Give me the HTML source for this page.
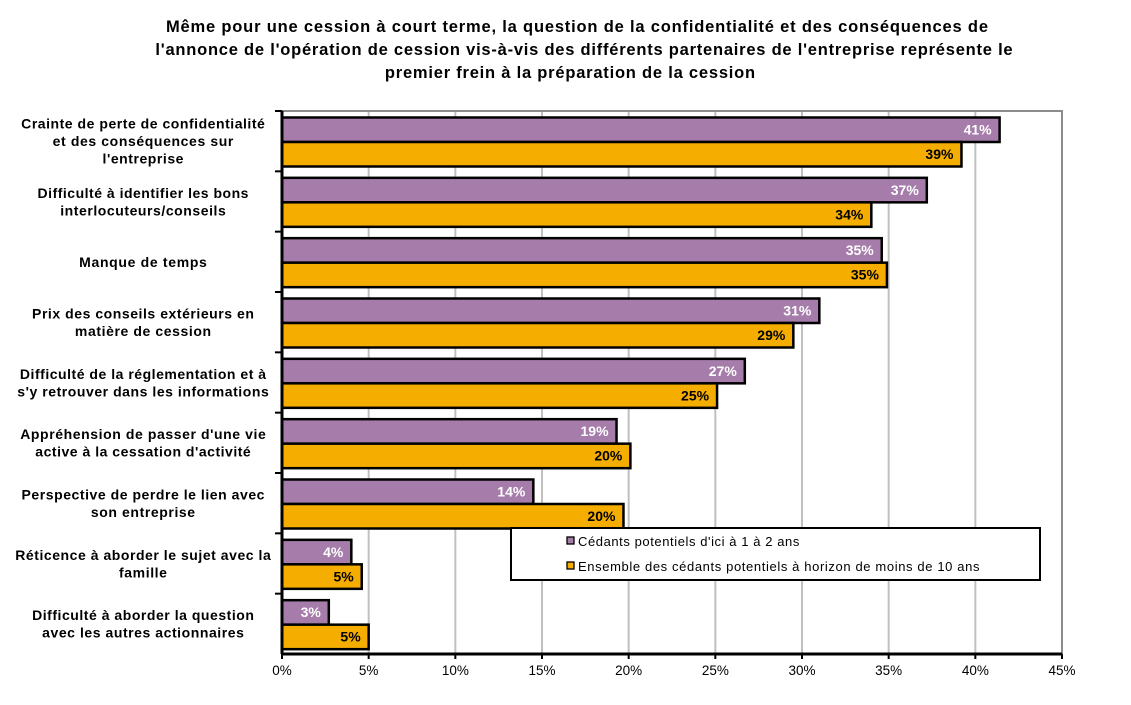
<!DOCTYPE html>
<html><head><meta charset="utf-8"><style>
body{margin:0;background:#fff;font-family:"Liberation Sans",Arial,sans-serif}
svg text{font-family:"Liberation Sans",Arial,sans-serif}
</style></head><body>
<svg id="chart" width="1131" height="700" xmlns="http://www.w3.org/2000/svg">
<g font-size="16.5" font-weight="bold" text-anchor="middle" fill="#000">
<text class="st" data-f="1.1" x="577" y="32">Même pour une cession à court terme, la question de la confidentialité et des conséquences de</text>
<text class="st" data-f="1.1" x="584" y="55">l'annonce de l'opération de cession vis-à-vis des différents partenaires de l'entreprise représente le</text>
<text class="st" data-f="1.1" x="570" y="78">premier frein à la préparation de la cession</text>
</g>
<g id="grid"></g>
<g id="bars"></g>
<g id="axes"></g>
<g>
<rect x="511" y="528" width="529" height="52" fill="#fff" stroke="#000" stroke-width="2"/>
<g>
<rect x="567" y="537" width="7" height="7" fill="#a57caa" stroke="#000" stroke-width="1.3"/>
<text class="st" data-f="1.1" x="578" y="546" font-size="13">Cédants potentiels d'ici à 1 à 2 ans</text></g>
<g>
<rect x="567" y="562" width="7" height="7" fill="#f5ae00" stroke="#000" stroke-width="1.3"/>
<text class="st" data-f="1.1" x="578" y="571" font-size="13">Ensemble des cédants potentiels à horizon de moins de 10 ans</text></g>
</g>
</svg>
<script>
const categories=[
["Crainte de perte de confidentialité","et des conséquences sur","l'entreprise"],
["Difficulté à identifier les bons","interlocuteurs/conseils"],
["Manque de temps"],
["Prix des conseils extérieurs en","matière de cession"],
["Difficulté de la réglementation et à","s'y retrouver dans les informations"],
["Appréhension de passer d'une vie","active à la cessation d'activité"],
["Perspective de perdre le lien avec","son entreprise"],
["Réticence à aborder le sujet avec la","famille"],
["Difficulté à aborder la question","avec les autres actionnaires"]];
const seriesShort=[41.4,37.2,34.6,31.0,26.7,19.3,14.5,4.0,2.7];
const seriesAll=[39.2,34.0,34.9,29.5,25.1,20.1,19.7,4.6,5.0];
const labelsShort=["41%","37%","35%","31%","27%","19%","14%","4%","3%"];
const labelsAll=["39%","34%","35%","29%","25%","20%","20%","5%","5%"];
const ticks=[0,5,10,15,20,25,30,35,40,45];
const NS="http://www.w3.org/2000/svg";
const X0=282,X1=1062,Y0=111,Y1=654,XMAX=45;
const xs=v=>X0+v/XMAX*(X1-X0);
const rowH=(Y1-Y0)/categories.length;
function el(t,a,p,txt){const e=document.createElementNS(NS,t);for(const k in a)e.setAttribute(k,a[k]);if(txt!==undefined)e.textContent=txt;p.appendChild(e);return e;}
const grid=document.getElementById('grid'),bars=document.getElementById('bars'),axes=document.getElementById('axes');
ticks.forEach((t,i)=>{
 if(i>0&&i<ticks.length-1){const g=el('line',{x1:xs(t),x2:xs(t),y1:Y0,y2:Y1,stroke:'#c0c0c0','stroke-width':2},grid);
 
 }
 const tl=el('text',{x:xs(t),y:Y1+21,'font-size':13.5,'text-anchor':'middle'},axes,t+'%');
 
 
 el('line',{x1:xs(t),x2:xs(t),y1:Y1,y2:Y1+5,stroke:'#000','stroke-width':2},axes);
});
el('rect',{x:X0,y:Y0,width:X1-X0,height:Y1-Y0,fill:'none',stroke:'#8c8c8c','stroke-width':2},grid);
categories.forEach((c,i)=>{
 const top=Y0+i*rowH, bh=24.5;
 const y1=top+6.5,y2=y1+bh;
 const b1=el('rect',{x:X0,y:y1,width:xs(seriesShort[i])-X0,height:bh,fill:'#a57caa',stroke:'#000','stroke-width':2.5},bars);
 
 
 const b2=el('rect',{x:X0,y:y2,width:xs(seriesAll[i])-X0,height:bh,fill:'#f5ae00',stroke:'#000','stroke-width':2.5},bars);
 
 
 const l1=el('text',{x:xs(seriesShort[i])-8,y:y1+17,'font-size':14,'font-weight':'bold',fill:'#fff','text-anchor':'end'},bars,labelsShort[i]);
 
 
 const l2=el('text',{x:xs(seriesAll[i])-8,y:y2+17,'font-size':14,'font-weight':'bold',fill:'#000','text-anchor':'end'},bars,labelsAll[i]);
 
 
 const mid=top+rowH/2, n=c.length, lh=17.5;
 const g=el('g',{},axes);
 
 
 c.forEach((s,j)=>el('text',{x:143,y:mid+(j-(n-1)/2)*lh+5,'font-size':14,'font-weight':'bold','text-anchor':'middle',class:'st','data-f':'1.08'},g,s));
 el('line',{x1:X0-7,x2:X0,y1:top,y2:top,stroke:'#000','stroke-width':2},axes);
});
el('line',{x1:X0,x2:X0,y1:Y0,y2:Y1,stroke:'#000','stroke-width':3},axes);
el('line',{x1:X0,x2:X1,y1:Y1,y2:Y1,stroke:'#000','stroke-width':3},axes);
document.querySelectorAll('text.st').forEach(t=>{
 const w=t.getComputedTextLength()*parseFloat(t.getAttribute('data-f'));
 t.setAttribute('textLength',w);
 t.setAttribute('lengthAdjust','spacing');
});
</script>
</body></html>
